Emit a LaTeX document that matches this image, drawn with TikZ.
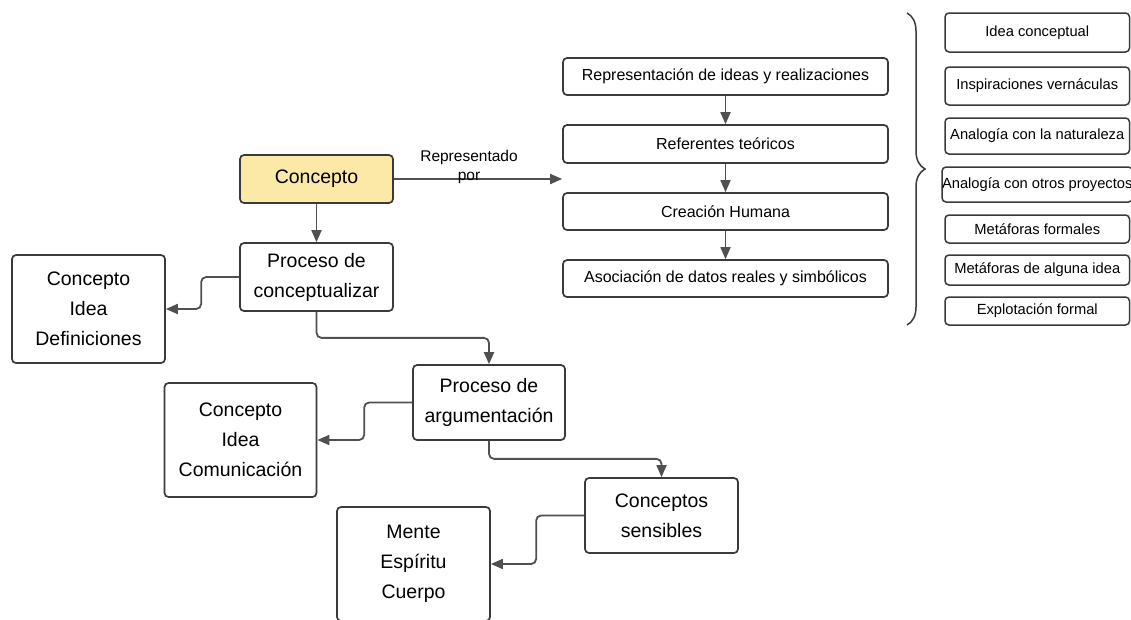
\documentclass[tikz,border=0pt]{standalone}
\usepackage{fontspec}
\setmainfont{Liberation Sans}
\usepackage{xcolor}
\usepackage{tikz}
\usetikzlibrary{arrows.meta,decorations.pathreplacing}
\definecolor{boxgray}{HTML}{3A3A3A}
\definecolor{arrowgray}{HTML}{505050}
\definecolor{conceptfill}{HTML}{FCE9A8}
\tikzset{
  bigbox/.style={draw=boxgray, line width=1.7pt, rounded corners=4pt, fill=white, align=center, inner sep=0pt, minimum width=153pt, font=\fontsize{19.5}{30}\selectfont},
  midbox/.style={draw=boxgray, line width=1.7pt, rounded corners=4pt, fill=white, align=center, inner sep=0pt, minimum width=325pt, minimum height=37pt, font=\fontsize{16}{19}\selectfont},
  sidebox/.style={draw=boxgray, line width=1.5pt, rounded corners=4pt, fill=white, align=center, inner sep=0pt, minimum width=184.5pt, font=\fontsize{14.7}{18}\selectfont},
  link/.style={-{Triangle[length=12pt,width=10pt]}, line width=1.8pt, draw=arrowgray, rounded corners=5pt},
  bracket/.style={decorate, decoration={brace, amplitude=18pt}, line width=1.5pt, draw=boxgray}
}

\begin{document}
\begin{tikzpicture}[x=1pt,y=-1pt]
  \useasboundingbox[fill=white] (0,0) rectangle (1131,619);

  % left branch
  \node[bigbox, fill=conceptfill, minimum height=48pt] (concept) at (316.5,179) {Concepto};
  \node[bigbox, minimum height=68pt] (procconc) at (316.5,277) {Proceso de\\conceptualizar};
  \node[bigbox, minimum height=108pt] (defs) at (88.5,309) {Concepto\\Idea\\Definiciones};
  \node[bigbox, minimum width=152pt, minimum height=75pt] (procarg) at (489,402.5) {Proceso de\\argumentación};
  \node[bigbox, minimum width=152pt, minimum height=114pt] (comm) at (240.5,440) {Concepto\\Idea\\Comunicación};
  \node[bigbox, minimum height=75pt] (sens) at (661.5,515.5) {Conceptos\\sensibles};
  \node[bigbox, minimum height=114pt] (mind) at (413.5,564) {Mente\\Espíritu\\Cuerpo};

  % middle column
  \node[midbox] (rep) at (725.5,76.5) {Representación de ideas y realizaciones};
  \node[midbox, minimum height=38pt] (ref) at (725.5,144) {Referentes teóricos};
  \node[midbox] (crea) at (725.5,211.5) {Creación Humana};
  \node[midbox] (asoc) at (725.5,278.5) {Asociación de datos reales y simbólicos};

  % right column
  \node[sidebox, minimum height=39pt] (idea) at (1037.25,32.5) {Idea conceptual};
  \node[sidebox, minimum height=38pt] (verna) at (1037.25,86) {Inspiraciones vernáculas};
  \node[sidebox, minimum height=36pt] (natur) at (1037.25,136) {Analogía con la naturaleza};
  \node[sidebox, minimum height=35pt] (proy) at (1037.25,184.5) {Analogía con otros proyectos};
  \node[sidebox, minimum height=28pt] (metf) at (1037.25,229) {Metáforas formales};
  \node[sidebox, minimum height=30pt] (meti) at (1037.25,270) {Metáforas de alguna idea};
  \node[sidebox, minimum height=28pt] (explo) at (1037.25,311) {Explotación formal};

  \coordinate (bracetop) at (907,13);
  \coordinate (bracebot) at (907,325);
  \draw[bracket] (bracetop) -- (bracebot);

  % connectors
  \draw[link] (concept.south) -- (procconc.north);
  \draw[link] (concept.east) -- (concept.east -| rep.west);
  \node[font=\fontsize{15.5}{19}\selectfont, align=center, inner sep=0pt] (lbl) at (469,167) {Representado\\por};
  \draw[link] (rep.south) -- (ref.north);
  \draw[link] (ref.south) -- (crea.north);
  \draw[link] (crea.south) -- (asoc.north);
  \draw[link] (procconc.west) -- ++(-38,0) |- (defs.east);
  \draw[link] (procconc.south) -- ++(0,26) -| (procarg.north);
  \draw[link] (procarg.west) -- ++(-48,0) |- (comm.east);
  \draw[link] (procarg.south) -- ++(0,18) -| (sens.north);
  \draw[link] (sens.west) -- ++(-48,0) |- (mind.east);
\end{tikzpicture}
\end{document}
